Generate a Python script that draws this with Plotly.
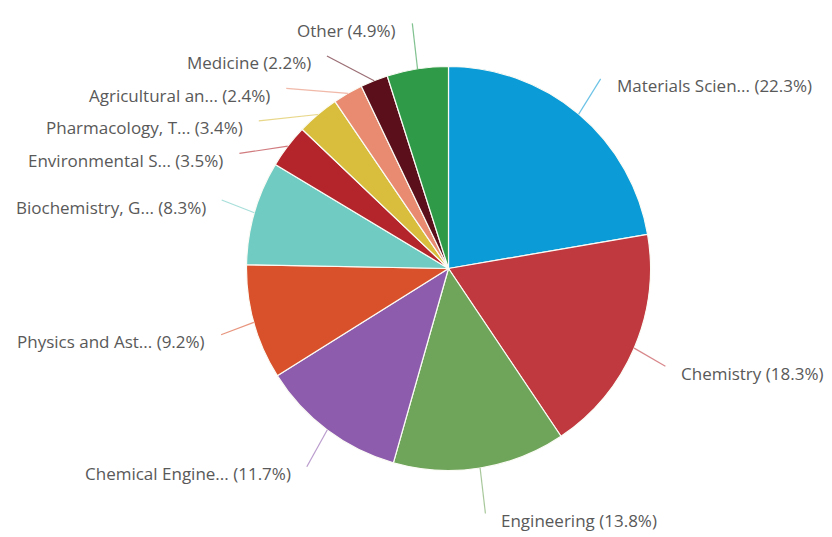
import math
import plotly.graph_objects as go

# Subject areas, clockwise from 12 o'clock
categories = [
    "Materials Science",
    "Chemistry",
    "Engineering",
    "Chemical Engineering",
    "Physics and Astronomy",
    "Biochemistry, Genetics and Molecular Biology",
    "Environmental Science",
    "Pharmacology, Toxicology and Pharmaceutics",
    "Agricultural and Biological Sciences",
    "Medicine",
    "Other",
]
shares = [22.3, 18.3, 13.8, 11.7, 9.2, 8.3, 3.5, 3.4, 2.4, 2.2, 4.9]
colors = [
    "#0b9bd6", "#c0393f", "#6fa55a", "#8d5cad", "#d9512b", "#70cbc3",
    "#b3242b", "#d9bd3c", "#e88b70", "#5a0f1a", "#2f9a48",
]

W, H = 832, 537
CX, CY = 448.5, 268.5          # pie centre in px (from top-left)
R = 202                        # pie radius in px
LRX, LRY = 236, 248            # ring on which the label connectors end
MIN_GAP = 32.5                 # minimum vertical spacing of stacked labels
TEXT_GAP = 14
TEXT_DY = 7


def short(name, n=15):
    return name if len(name) <= n else name[:n] + "..."


def px_to_paper(x, y):
    return x / W, 1 - y / H


total = sum(shares)
mids = []
acc = 0.0
for v in shares:
    mids.append((acc + v / 2) / total * 2 * math.pi)
    acc += v

# radial connector end points
ends = []
for a in mids:
    ends.append([CX + LRX * math.sin(a), CY - LRY * math.cos(a)])

# left-side labels: stack from the top downwards so they do not collide
left = [i for i, a in enumerate(mids) if a > math.pi]
left.sort(key=lambda i: ends[i][1])
prev = None
for i in left:
    y = ends[i][1]
    if prev is not None and y < prev + MIN_GAP:
        y = prev + MIN_GAP
        c = max(-1.0, min(1.0, (CY - y) / LRY))
        ends[i] = [CX - LRX * math.sqrt(1 - c * c), y]
    prev = ends[i][1]

fig = go.Figure(
    go.Pie(
        labels=categories,
        values=shares,
        sort=False,
        direction="clockwise",
        rotation=0,
        marker=dict(colors=colors, line=dict(color="#fbfbf5", width=1.2)),
        textinfo="none",
        hoverinfo="skip",
        showlegend=False,
        domain=dict(
            x=[(CX - R) / W, (CX + R) / W],
            y=[1 - (CY + R) / H, 1 - (CY - R) / H],
        ),
    )
)

shapes = []
annotations = []
for i, (name, v, col, a) in enumerate(zip(categories, shares, colors, mids)):
    ex, ey = CX + R * math.sin(a), CY - R * math.cos(a)
    lx, ly = ends[i]
    x0, y0 = px_to_paper(ex, ey)
    x1, y1 = px_to_paper(lx, ly)
    shapes.append(dict(type="line", xref="paper", yref="paper",
                       x0=x0, y0=y0, x1=x1, y1=y1,
                       line=dict(color=col, width=1.2), opacity=0.6))
    right_side = a < math.pi
    tx = lx + TEXT_GAP if right_side else lx - TEXT_GAP
    txp, typ = px_to_paper(tx, ly + TEXT_DY)
    annotations.append(dict(
        x=txp, y=typ, xref="paper", yref="paper",
        text=f"{short(name)} ({v:.1f}%)",
        showarrow=False,
        xanchor="left" if right_side else "right",
        yanchor="middle",
        font=dict(family="Open Sans", size=17, color="#595959"),
    ))

fig.update_layout(
    width=W, height=H,
    margin=dict(l=0, r=0, t=0, b=0),
    paper_bgcolor="#ffffff",
    plot_bgcolor="#ffffff",
    shapes=shapes,
    annotations=annotations,
)

fig.write_html("out.html")
